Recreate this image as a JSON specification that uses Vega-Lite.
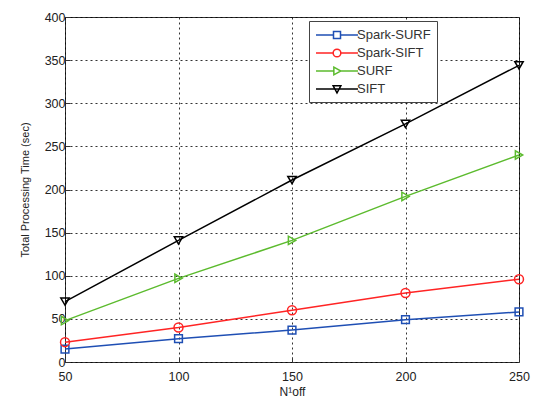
{
  "$schema": "https://vega.github.io/schema/vega-lite/v6.json",
  "width": 454,
  "height": 345,
  "autosize": "none",
  "padding": {"left": 65, "top": 17, "right": 18, "bottom": 40},
  "background": "white",
  "config": {
    "font": "Liberation Sans",
    "view": {"stroke": "#333", "strokeWidth": 1},
    "axis": {
      "labelFont": "Liberation Sans",
      "titleFont": "Liberation Sans",
      "labelFontSize": 12.5,
      "labelColor": "#222",
      "titleColor": "#222",
      "titleFontWeight": "normal",
      "grid": true,
      "gridColor": "#000",
      "gridOpacity": 0.8,
      "gridDash": [2, 3],
      "gridWidth": 1,
      "domain": false,
      "tickColor": "#333",
      "tickSize": -5,
      "labelFlush": false
    }
  },
  "data": {
    "values": [
      {"n": 50, "method": "Spark-SURF", "time": 15},
      {"n": 100, "method": "Spark-SURF", "time": 27},
      {"n": 150, "method": "Spark-SURF", "time": 37},
      {"n": 200, "method": "Spark-SURF", "time": 49},
      {"n": 250, "method": "Spark-SURF", "time": 58},
      {"n": 50, "method": "Spark-SIFT", "time": 23},
      {"n": 100, "method": "Spark-SIFT", "time": 40},
      {"n": 150, "method": "Spark-SIFT", "time": 60},
      {"n": 200, "method": "Spark-SIFT", "time": 80},
      {"n": 250, "method": "Spark-SIFT", "time": 96},
      {"n": 50, "method": "SURF", "time": 48},
      {"n": 100, "method": "SURF", "time": 97},
      {"n": 150, "method": "SURF", "time": 141},
      {"n": 200, "method": "SURF", "time": 192},
      {"n": 250, "method": "SURF", "time": 240},
      {"n": 50, "method": "SIFT", "time": 70},
      {"n": 100, "method": "SIFT", "time": 141},
      {"n": 150, "method": "SIFT", "time": 211},
      {"n": 200, "method": "SIFT", "time": 276},
      {"n": 250, "method": "SIFT", "time": 344}
    ]
  },
  "encoding": {
    "x": {
      "field": "n",
      "type": "quantitative",
      "scale": {"domain": [50, 250], "nice": false, "zero": false},
      "axis": {"values": [50, 100, 150, 200, 250], "title": "N\u00b9off", "titleFontSize": 12, "titlePadding": 4, "labelPadding": 13}
    },
    "y": {
      "field": "time",
      "type": "quantitative",
      "scale": {"domain": [0, 400], "nice": false},
      "axis": {"values": [0, 50, 100, 150, 200, 250, 300, 350, 400], "title": "Total Processing Time (sec)", "titleFontSize": 11, "titlePadding": 14, "labelPadding": 5}
    },
    "color": {
      "field": "method",
      "type": "nominal",
      "scale": {
        "domain": ["Spark-SURF", "Spark-SIFT", "SURF", "SIFT"],
        "range": ["#1f4fb4", "#ff2424", "#5cbb2e", "#000000"]
      },
      "legend": {
        "title": null,
        "orient": "none",
        "legendX": 244,
        "legendY": 4,
        "direction": "vertical",
        "fillColor": "white",
        "strokeColor": "#444",
        "padding": 6,
        "symbolSize": 196,
        "symbolStrokeWidth": 1.5,
        "symbolFillColor": "transparent",
        "symbolOpacity": 1,
        "labelFontSize": 13,
        "labelColor": "#333",
        "labelFont": "Liberation Sans",
        "labelOffset": 26,
        "rowPadding": 3
      }
    }
  },
  "layer": [
    {
      "mark": {"type": "line", "strokeWidth": 1.5}
    },
    {
      "transform": [{"filter": "datum.method == 'Spark-SURF'"}],
      "mark": {"type": "point", "shape": "square", "filled": false, "size": 60, "strokeWidth": 1.5, "opacity": 1}
    },
    {
      "transform": [{"filter": "datum.method == 'Spark-SIFT'"}],
      "mark": {"type": "point", "shape": "circle", "filled": false, "size": 80, "strokeWidth": 1.5, "opacity": 1}
    },
    {
      "transform": [{"filter": "datum.method == 'SURF'"}],
      "mark": {"type": "point", "shape": "triangle-right", "filled": false, "size": 70, "strokeWidth": 1.5, "opacity": 1}
    },
    {
      "transform": [{"filter": "datum.method == 'SIFT'"}],
      "mark": {"type": "point", "shape": "triangle-down", "filled": false, "size": 70, "strokeWidth": 1.5, "opacity": 1}
    },
    {
      "mark": {"type": "point", "filled": false, "size": 0, "strokeWidth": 1.5, "opacity": 1},
      "encoding": {
        "shape": {
          "field": "method",
          "type": "nominal",
          "scale": {
            "domain": ["Spark-SURF", "Spark-SIFT", "SURF", "SIFT"],
            "range": [
              "M-1,0H1.5M2.5,0H5M1.5,-0.5H2.5V0.5H1.5Z",
              "M-1,0H1.45M2.55,0H5M1.45,0A0.55,0.55 0 1,0 2.55,0A0.55,0.55 0 1,0 1.45,0",
              "M-1,0H1.55M2.55,0H5M1.55,-0.55L2.55,0L1.55,0.55Z",
              "M-1,0H5M1.45,-0.45H2.55L2,0.55Z"
            ]
          }
        }
      }
    }
  ]
}
